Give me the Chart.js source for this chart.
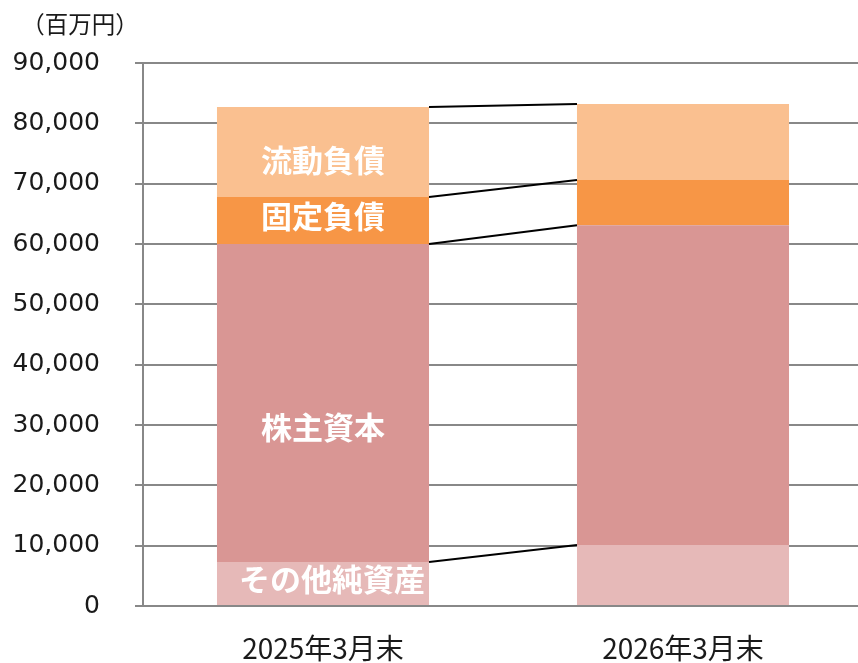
<!DOCTYPE html>
<html>
<head>
<meta charset="utf-8">
<script src="https://cdn.jsdelivr.net/npm/chart.js@4.4.1/dist/chart.umd.min.js"></script>
<style>
  html, body { margin: 0; padding: 0; overflow: hidden; background: #fff; }
  #wrap { position: relative; width: 864px; height: 663px; }
</style>
</head>
<body>
<div id="wrap"><canvas id="bsChart" width="864" height="663"></canvas></div>
<script>
// Balance sheet composition (百万円)
const categories = ['2025年3月末', '2026年3月末'];
const otherNetAssets = [7300, 10100];
const shareholdersEquity = [52700, 53000];
const fixedLiabilities = [7800, 7500];
const currentLiabilities = [14900, 12600];
const segmentNames = ['その他純資産', '株主資本', '固定負債', '流動負債'];
const yMax = 90000;
const yStep = 10000;
const unitLabel = '（百万円）';

// label nudges inside first bar (px), same order as segmentNames
const labelNudge = [[9, -4], [0, 24], [0, -4], [0, 8]];

const connectorPlugin = {
    id: 'connectors',
    afterDatasetsDraw(chart) {
        const ctx = chart.ctx;
        ctx.save();
        ctx.strokeStyle = '#000';
        ctx.lineWidth = 2;
        chart.data.datasets.forEach((ds, d) => {
            const bars = chart.getDatasetMeta(d).data;
            for (let i = 0; i < bars.length - 1; i++) {
                const a = bars[i], b = bars[i + 1];
                ctx.beginPath();
                ctx.moveTo(a.x + a.width / 2, a.y);
                ctx.lineTo(b.x - b.width / 2, b.y);
                ctx.stroke();
            }
        });
        // segment labels in first bar
        ctx.fillStyle = '#fff';
        ctx.font = 'bold 31px "Noto Sans CJK JP"';
        ctx.textAlign = 'center';
        ctx.textBaseline = 'middle';
        chart.data.datasets.forEach((ds, d) => {
            const bar = chart.getDatasetMeta(d).data[0];
            const n = labelNudge[d];
            ctx.fillText(ds.label, bar.x + n[0], (bar.y + bar.base) / 2 + n[1]);
        });
        // unit label
        ctx.fillStyle = '#1a1a1a';
        ctx.font = '23.5px "Noto Sans CJK JP"';
        ctx.fillText(unitLabel, 80, 24);
        ctx.restore();
    }
};

const ctx = document.getElementById('bsChart').getContext('2d');
new Chart(ctx, {
    type: 'bar',
    data: {
        labels: categories,
        datasets: [
            { label: segmentNames[0], data: otherNetAssets, backgroundColor: '#E6B9B8' },
            { label: segmentNames[1], data: shareholdersEquity, backgroundColor: '#D99694' },
            { label: segmentNames[2], data: fixedLiabilities, backgroundColor: '#F79646' },
            { label: segmentNames[3], data: currentLiabilities, backgroundColor: '#FAC090' },
        ]
    },
    options: {
        responsive: false,
        animation: false,
        layout: { padding: { top: 63, right: 1, left: 0, bottom: 0 } },
        datasets: { bar: { barPercentage: 0.589, categoryPercentage: 1, borderWidth: 0 } },
        plugins: { legend: { display: false }, tooltip: { enabled: false } },
        scales: {
            x: {
                stacked: true,
                grid: { display: false, drawTicks: false },
                border: { display: false },
                ticks: { color: '#1a1a1a', font: { family: '"Noto Sans CJK JP"', size: 28 }, padding: 26 },
                afterFit: (scale) => { scale.height = 57; }
            },
            y: {
                stacked: true,
                min: 0,
                max: yMax,
                grid: { color: '#888', lineWidth: 2, tickLength: 8 },
                border: { color: '#888', width: 2 },
                ticks: {
                    stepSize: yStep,
                    color: '#1a1a1a',
                    padding: 35,
                    font: { family: '"DejaVu Sans"', size: 25 },
                    callback: (v) => v.toLocaleString('en-US')
                },
                afterFit: (scale) => { scale.width = 143; }
            }
        }
    },
    plugins: [connectorPlugin]
});
</script>
</body>
</html>
